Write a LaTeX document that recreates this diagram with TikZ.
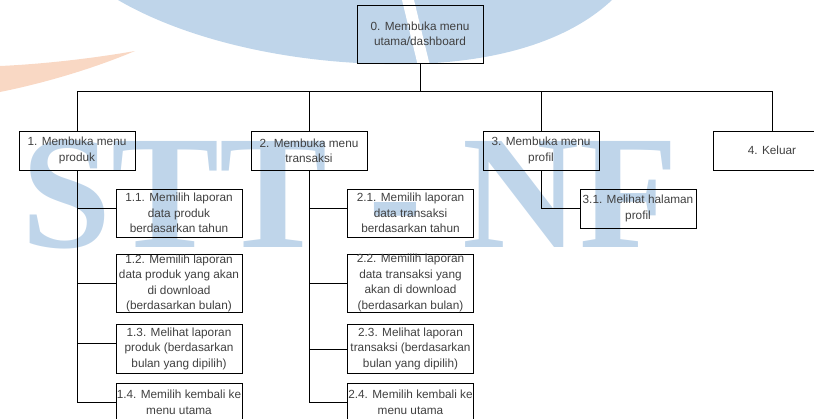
\documentclass[tikz,border=0pt]{standalone}
\usepackage{fontspec}
\setmainfont{Liberation Sans}
\newfontfamily\wmfont{Liberation Serif}
\definecolor{wmblue}{HTML}{BFD5EA}
\definecolor{wmorange}{HTML}{F9D8C4}
\definecolor{txtgray}{HTML}{404040}

\begin{document}
\begin{tikzpicture}
  [x=1pt,y=-1pt,line width=.8pt,
   every node/.style={rectangle,draw,inner sep=0pt,align=center,text=txtgray,
     font=\fontsize{11.8}{15.5}\selectfont},
   menu/.style={minimum width=116pt,minimum height=39pt},
   sub/.style={minimum width=126pt,minimum height=48pt}]
  \useasboundingbox (0,0) rectangle (814,418);

  % watermark
  \fill[wmorange] (0,66) .. controls (45,64) and (95,58) .. (135,51)
    .. controls (90,70) and (40,84) .. (0,92) -- cycle;
  \fill[wmblue] (118,0) .. controls (190,42) and (300,66) .. (410,64)
    .. controls (510,62) and (575,35) .. (612,0) -- cycle;
  \fill[white] (402,0) -- (414,0) -- (430,66) -- (418,66) -- cycle;
  \node (wm)[draw=none,text=wmblue,anchor=base,
    font=\wmfont\bfseries\fontsize{162}{162}\selectfont] at (350,247) {STT - NF};

  \node (n0)[minimum width=126pt,minimum height=58pt] at (420,34) {0. Membuka menu\\utama/dashboard};
  \node (n1)[menu] at (77,150.5) {1. Membuka menu\\produk};
  \node (n2)[menu] at (309,151) {2. Membuka menu\\transaksi};
  \node (n3)[menu] at (541,150.5) {3. Membuka menu\\profil};
  \node (n4)[menu,minimum width=118pt] at (772,150.5) {4. Keluar};

  \node (n11)[sub] at (179,213) {1.1. Memilih laporan\\data produk\\berdasarkan tahun};
  \node (n12)[sub,minimum height=58pt] at (179,283.5) {1.2. Memilih laporan\\data produk yang akan\\di download\\(berdasarkan bulan)};
  \node (n13)[sub,minimum height=49pt] at (179,348.5) {1.3. Melihat laporan\\produk (berdasarkan\\bulan yang dipilih)};
  \node (n14)[sub,minimum height=39pt] at (179,402.5) {1.4. Memilih kembali ke\\menu utama};

  \node (n21)[sub] at (410.5,213) {2.1. Memilih laporan\\data transaksi\\berdasarkan tahun};
  \node (n22)[sub,minimum height=58pt] at (410.5,283) {2.2. Memilih laporan\\data transaksi yang\\akan di download\\(berdasarkan bulan)};
  \node (n23)[sub,minimum height=49pt] at (410.5,348.5) {2.3. Melihat laporan\\transaksi (berdasarkan\\bulan yang dipilih)};
  \node (n24)[sub,minimum height=39pt] at (410.5,402.5) {2.4. Memilih kembali ke\\menu utama};

  \node (n31)[menu] at (638,208.5) {3.1. Melihat halaman\\profil};

  \foreach \to in {n1,n2,n3,n4}
    \draw (n0.south) -- ++(0,28) -| (\to.north);

  \foreach \from/\to/\dy in {n1/n11/5,n1/n12/0,n1/n13/5,n1/n14/0,
      n2/n21/5,n2/n22/0,n2/n23/-1,n2/n24/0,n3/n31/0}
    \draw (\from.south) |- ([yshift=\dy pt]\to.west);

\end{tikzpicture}
\end{document}
